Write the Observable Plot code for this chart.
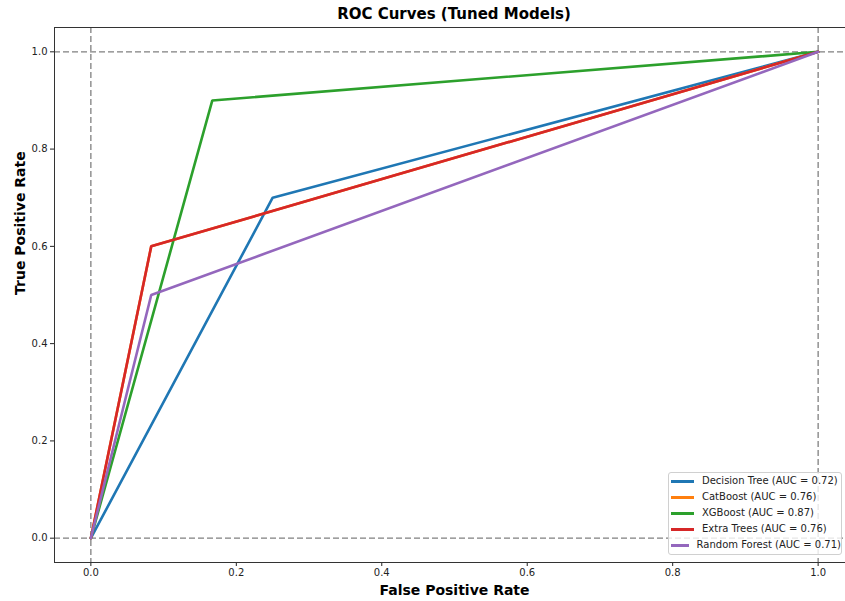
<!DOCTYPE html>
<html><head><meta charset="utf-8">
<script src="https://cdn.jsdelivr.net/npm/d3@7"></script>
<script src="https://cdn.jsdelivr.net/npm/@observablehq/plot@0.6"></script>
<style>
body{margin:0;background:#fff;font-family:"DejaVu Sans",sans-serif;}
#wrap{position:relative;width:845px;height:601px;overflow:hidden;background:#fff;}
#title{position:absolute;left:54px;width:800px;top:5px;text-align:center;font-weight:bold;font-size:15px;color:#000;line-height:18px;}
#chart{position:absolute;left:0;top:20px;width:855px;}
#chart svg{max-width:none !important;}
#legend{position:absolute;left:668px;top:472px;width:174px;height:83px;border:1px solid #d0d0d0;border-radius:3px;background:rgba(255,255,255,0.8);box-sizing:border-box;font-size:10px;color:#222;}
.row{height:16px;line-height:16px;display:flex;align-items:center;white-space:nowrap;}
.sw{width:23px;height:3px;margin-left:2px;margin-right:8px;}
</style></head>
<body>
<div id="wrap">
  <div id="title">ROC Curves (Tuned Models)</div>
  <div id="chart"></div>
  <div id="legend"></div>
</div>
<script>
const models = ["Decision Tree", "CatBoost", "XGBoost", "Extra Trees", "Random Forest"];
const aucs = [0.72, 0.76, 0.87, 0.76, 0.71];
const fprValues = [[0, 0.25, 1], [0, 0.083, 1], [0, 0.167, 1], [0, 0.083, 1], [0, 0.083, 1]];
const tprValues = [[0, 0.7, 1], [0, 0.6, 1], [0, 0.9, 1], [0, 0.6, 1], [0, 0.5, 1]];
const colors = ["#1f77b4", "#ff7f0e", "#2ca02c", "#d62728", "#9467bd"];
const tickValues = [0, 0.2, 0.4, 0.6, 0.8, 1.0];
const refLines = [0, 1];

const rows = [];
models.forEach((m, i) => {
  fprValues[i].forEach((f, j) => rows.push({model: m, fpr: f, tpr: tprValues[i][j]}));
});

const chart = Plot.plot({
  width: 855, height: 581,
  marginTop: 7, marginBottom: 39, marginLeft: 54, marginRight: 1,
  style: {fontFamily: "DejaVu Sans, sans-serif", fontSize: "10px", color: "#222", background: "transparent", maxWidth: "none"},
  x: {domain: [-0.05, 1.05], ticks: tickValues, tickFormat: d3.format(".1f"), label: null, tickSize: 4, tickPadding: 2},
  y: {domain: [-0.05, 1.05], ticks: tickValues, tickFormat: d3.format(".1f"), label: null, tickSize: 4, tickPadding: 3},
  color: {domain: models, range: colors},
  marks: [
    Plot.ruleX(refLines, {stroke: "#808080", strokeDasharray: "6,3", strokeWidth: 1.3}),
    Plot.ruleY(refLines, {stroke: "#808080", strokeDasharray: "6,3", strokeWidth: 1.3}),
    Plot.line(rows, {x: "fpr", y: "tpr", z: "model", stroke: "model", strokeWidth: 2.6, strokeLinejoin: "miter"}),
    Plot.frame({stroke: "#333", strokeWidth: 1}),
    Plot.text(["False Positive Rate"], {frameAnchor: "bottom", lineAnchor: "middle", dy: 28, fontWeight: "bold", fontSize: 14, fill: "#000"}),
    Plot.text(["True Positive Rate"], {frameAnchor: "left", dx: -34, rotate: -90, fontWeight: "bold", fontSize: 14, fill: "#000"})
  ]
});
document.getElementById("chart").appendChild(chart);

const leg = document.getElementById("legend");
models.forEach((m, i) => {
  const r = document.createElement("div");
  r.className = "row";
  const s = document.createElement("span");
  s.className = "sw"; s.style.background = colors[i];
  const t = document.createElement("span");
  t.textContent = `${m} (AUC = ${aucs[i].toFixed(2)})`;
  r.appendChild(s); r.appendChild(t);
  leg.appendChild(r);
});
</script>
</body></html>
